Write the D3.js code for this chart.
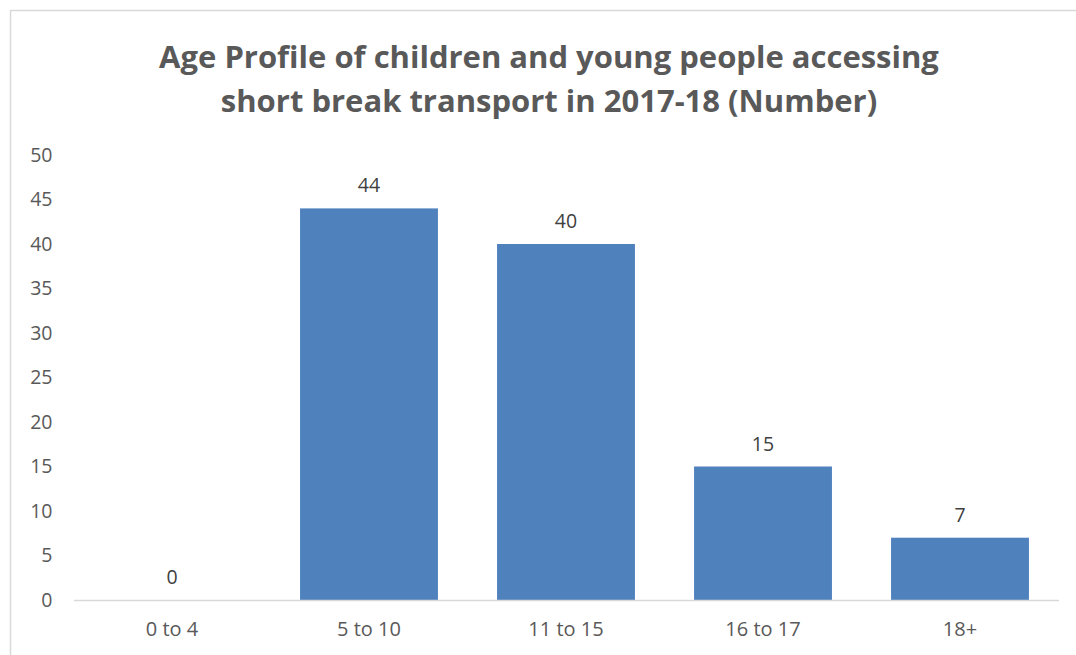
<!DOCTYPE html>
<html>
<head>
<meta charset="utf-8">
<script src="https://cdn.jsdelivr.net/npm/d3@7"></script>
<style>
  html, body { margin: 0; padding: 0; background: #fff; }
  svg { display: block; }
</style>
</head>
<body>
<svg id="chart" width="1076" height="655"></svg>
<script>
// Age groups and counts of young people using short break transport
const categories = ["0 to 4", "5 to 10", "11 to 15", "16 to 17", "18+"];
const counts = [0, 44, 40, 15, 7];
const yTicks = [0, 5, 10, 15, 20, 25, 30, 35, 40, 45, 50];
const titleLines = [
  "Age Profile of children and young people accessing",
  "short break transport in 2017-18 (Number)"
];

const svg = d3.select("#chart");
const W = 1076, H = 655;
const font = "'Open Sans', 'Liberation Sans', sans-serif";

// chart frame
svg.append("rect")
  .attr("x", 10.5).attr("y", 10.5)
  .attr("width", W + 10).attr("height", H + 10)
  .attr("fill", "#fff")
  .attr("stroke", "#d9d9d9").attr("stroke-width", 1.5);

// title
const title = svg.append("text")
  .attr("text-anchor", "middle")
  .attr("font-family", font)
  .attr("font-weight", 700)
  .attr("font-size", 31)
  .attr("fill", "#595959");
titleLines.forEach((t, i) => {
  title.append("tspan")
    .attr("x", 549)
    .attr("y", 68 + i * 44)
    .text(t);
});

const plot = { left: 73.5, right: 1058.5, top: 155, bottom: 600 };

const x = d3.scaleBand()
  .domain(categories)
  .range([plot.left, plot.right])
  .paddingInner(0.3)
  .paddingOuter(0.15);

const y = d3.scaleLinear()
  .domain([0, 50])
  .range([plot.bottom, plot.top]);

// bars
svg.append("g")
  .selectAll("rect")
  .data(categories.map((c, i) => ({ c, v: counts[i] })))
  .join("rect")
  .attr("x", d => x(d.c))
  .attr("width", x.bandwidth())
  .attr("y", d => y(d.v))
  .attr("height", d => y(0) - y(d.v))
  .attr("fill", "#4f81bd");

// value labels
svg.append("g")
  .selectAll("text")
  .data(categories.map((c, i) => ({ c, v: counts[i] })))
  .join("text")
  .attr("x", d => x(d.c) + x.bandwidth() / 2)
  .attr("y", d => y(d.v) - 16)
  .attr("text-anchor", "middle")
  .attr("font-family", font)
  .attr("font-size", 19.5)
  .attr("fill", "#404040")
  .text(d => d.v);

// y axis (labels only)
const yAxis = svg.append("g")
  .attr("transform", `translate(${plot.left - 21},0)`)
  .call(d3.axisLeft(y).tickValues(yTicks).tickSize(0).tickPadding(0));
yAxis.select(".domain").remove();
yAxis.selectAll("text")
  .attr("font-family", font)
  .attr("font-size", 19.5)
  .attr("fill", "#595959");

// x axis
const xAxis = svg.append("g")
  .attr("transform", `translate(0,${plot.bottom})`)
  .call(d3.axisBottom(x).tickSize(0).tickPadding(22));
xAxis.select(".domain")
  .attr("stroke", "#d9d9d9")
  .attr("stroke-width", 1.5);
xAxis.selectAll("text")
  .attr("font-family", font)
  .attr("font-size", 20)
  .attr("fill", "#595959");
</script>
</body>
</html>
